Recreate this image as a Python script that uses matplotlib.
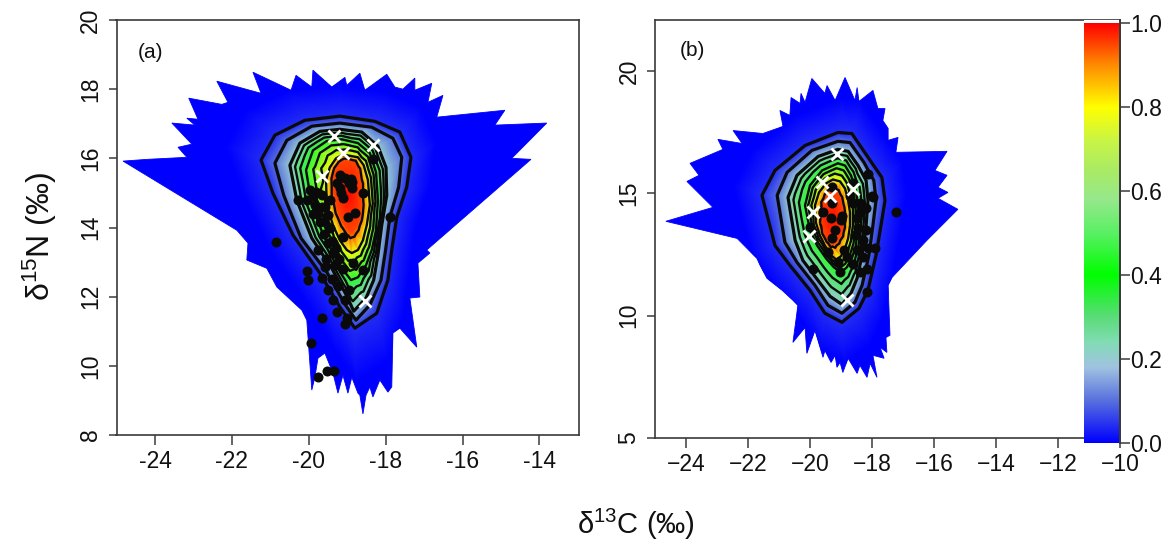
import numpy as np
import matplotlib
matplotlib.use("Agg")
import matplotlib.pyplot as plt
from matplotlib.colors import LinearSegmentedColormap
from matplotlib.patches import Polygon
from matplotlib.tri import Triangulation

plt.rcParams['font.family'] = ['Liberation Sans', 'DejaVu Sans']
plt.rcParams['mathtext.fontset'] = 'custom'
plt.rcParams['mathtext.rm'] = 'Liberation Sans'
plt.rcParams['mathtext.it'] = 'Liberation Sans'
plt.rcParams['mathtext.default'] = 'regular'

# ---------- data ----------
ring_levels = [0.04, 0.10, 0.20, 0.45, 0.78, 0.95]
contour_levels = [0.04, 0.10, 0.20, 0.28, 0.36, 0.45, 0.55, 0.66, 0.78, 0.9]

a_ring_1 = [(-19.19,17.22),(-18.28,17.07),(-17.63,16.76),(-17.34,16.03),(-17.45,15.17),(-17.71,14.30),(-17.84,13.35),(-17.94,12.48),(-18.23,11.52),(-18.80,11.09),(-19.19,11.70),(-19.71,12.68),(-20.41,13.78),(-20.93,14.99),(-21.24,15.95),(-20.88,16.67),(-20.10,17.10)]
a_ring_2 = [(-19.19,17.02),(-18.36,16.90),(-17.81,16.58),(-17.58,16.03),(-17.66,15.17),(-17.89,14.30),(-18.00,13.35),(-18.12,12.48),(-18.41,11.76),(-18.77,11.32),(-19.06,11.78),(-19.53,12.71),(-20.20,13.69),(-20.65,14.93),(-20.88,15.86),(-20.57,16.52),(-19.92,16.93)]
a_ring_3 = [(-19.19,16.84),(-18.62,16.76),(-18.20,16.35),(-17.99,15.74),(-17.97,14.93),(-18.10,14.07),(-18.20,13.20),(-18.31,12.48),(-18.51,11.96),(-18.83,11.58),(-19.01,12.02),(-19.40,12.82),(-19.92,13.69),(-20.31,14.79),(-20.49,15.80),(-20.23,16.44),(-19.71,16.78)]
a_ring_4 = [(-19.14,16.55),(-18.72,16.44),(-18.41,16.15),(-18.25,15.60),(-18.20,14.79),(-18.25,13.92),(-18.36,13.35),(-18.51,12.91),(-18.72,12.56),(-18.90,12.48),(-19.06,12.71),(-19.29,13.11),(-19.61,13.75),(-19.92,14.65),(-20.07,15.66),(-19.89,16.23),(-19.53,16.50)]
a_ring_5 = [(-19.01,16.09),(-18.72,16.03),(-18.57,15.80),(-18.46,15.37),(-18.41,14.65),(-18.49,14.07),(-18.59,13.63),(-18.72,13.35),(-18.88,13.26),(-19.01,13.35),(-19.19,13.63),(-19.37,14.07),(-19.53,14.65),(-19.55,15.37),(-19.45,15.74),(-19.29,16.00),(-19.14,16.09)]
a_ring_6 = [(-18.96,15.95),(-18.80,15.89),(-18.70,15.66),(-18.64,15.22),(-18.64,14.65),(-18.67,14.27),(-18.75,14.04),(-18.85,13.89),(-18.93,13.87),(-19.01,13.98),(-19.14,14.21),(-19.27,14.56),(-19.35,15.02),(-19.35,15.43),(-19.29,15.71),(-19.19,15.86),(-19.06,15.95)]
a_peak = (-18.95, 14.95)

a_outline = [(-24.83,15.92),(-24.21,15.97),(-23.17,16.03),(-23.40,16.32),(-23.04,16.41),(-23.56,17.02),(-22.96,16.96),(-23.17,17.16),(-22.88,17.13),(-23.12,17.74),(-22.26,17.56),(-22.10,17.62),(-22.39,18.23),(-21.24,17.88),(-21.45,18.49),(-20.46,17.97),(-20.33,18.40),(-19.92,18.06),(-19.89,18.55),(-19.40,18.06),(-19.06,18.34),(-19.01,18.11),(-18.67,18.46),(-18.54,17.97),(-17.97,18.43),(-17.76,18.06),(-17.55,18.00),(-17.24,18.32),(-17.24,17.97),(-16.80,18.17),(-16.90,17.62),(-16.51,17.82),(-16.67,17.19),(-14.90,17.39),(-15.16,16.96),(-13.81,17.02),(-14.72,16.00),(-14.22,15.97),(-16.93,13.35),(-16.85,13.26),(-17.16,12.97),(-17.11,11.99),(-17.37,11.96),(-17.19,10.54),(-17.63,11.09),(-17.81,10.95),(-17.84,9.39),(-17.94,9.24),(-18.15,9.59),(-18.33,9.10),(-18.41,9.39),(-18.51,9.15),(-18.59,8.61),(-18.67,9.15),(-18.72,9.21),(-18.88,9.67),(-18.98,9.21),(-19.11,9.73),(-19.24,9.21),(-19.37,9.79),(-19.58,10.37),(-19.76,10.22),(-19.84,9.67),(-19.92,9.30),(-20.00,10.54),(-20.05,11.32),(-20.18,11.61),(-20.83,12.28),(-21.09,12.82),(-21.61,13.06),(-21.58,13.55),(-21.87,13.92)]

a_samples = [(-18.33,15.97),(-20.28,14.79),(-17.89,14.30),(-19.11,13.72),(-19.11,14.85),(-18.98,14.30),(-18.80,14.41),(-19.19,15.51),(-19.06,15.43),(-18.88,15.31),(-18.88,15.14),(-19.27,15.28),(-19.19,15.14),(-18.59,14.99),(-19.45,14.79),(-19.97,15.08),(-19.81,15.02),(-19.66,14.93),(-20.05,14.79),(-19.84,14.65),(-19.58,14.59),(-19.76,14.41),(-19.50,14.36),(-19.71,14.15),(-20.85,13.58),(-20.05,12.74),(-20.02,12.48),(-19.66,11.38),(-19.94,10.66),(-19.76,9.67),(-19.53,9.85),(-19.35,9.85),(-19.01,11.38),(-19.06,11.21),(-19.27,11.55),(-19.06,11.90),(-19.37,11.90),(-19.50,12.19),(-19.66,12.54),(-18.59,12.77),(-18.85,12.97),(-19.76,13.35),(-19.58,12.85),(-19.32,12.91),(-19.50,13.55),(-19.37,13.26),
             (-19.90,14.90),(-19.65,14.60),(-19.90,14.40),(-19.60,14.20),(-19.45,14.00),(-19.60,13.80),(-19.40,13.60),(-19.30,13.40),(-19.55,13.10),(-19.20,13.10),(-19.10,12.80),(-19.40,12.50),(-19.25,12.30),(-18.95,12.20),(-18.90,15.40),(-19.15,15.00),(-18.95,15.30)]
a_crosses = [(-19.35,16.64),(-19.11,16.15),(-18.33,16.38),(-19.66,15.48),(-18.54,11.87)]

b_ring_1 = [(-19.10,17.49),(-18.65,17.45),(-18.06,16.35),(-17.68,15.65),(-17.58,14.71),(-17.71,13.69),(-17.87,12.47),(-18.13,11.04),(-18.42,10.30),(-18.97,9.73),(-19.52,10.10),(-20.00,11.04),(-20.65,12.06),(-21.13,12.87),(-21.55,14.92),(-21.13,15.94),(-20.16,16.96)]
b_ring_2 = [(-19.10,17.13),(-18.71,17.08),(-18.26,16.27),(-17.94,15.53),(-17.87,14.71),(-17.97,13.69),(-18.10,12.47),(-18.32,11.24),(-18.55,10.55),(-18.97,10.10),(-19.42,10.42),(-19.84,11.24),(-20.42,12.18),(-20.81,13.00),(-21.06,14.92),(-20.74,15.86),(-19.94,16.76)]
b_ring_3 = [(-19.10,16.80),(-18.77,16.72),(-18.45,16.14),(-18.19,15.53),(-18.13,14.71),(-18.19,13.69),(-18.32,12.47),(-18.48,11.53),(-18.68,10.91),(-18.97,10.46),(-19.35,10.79),(-19.74,11.44),(-20.23,12.26),(-20.48,13.08),(-20.71,14.84),(-20.42,15.74),(-19.74,16.51)]
b_ring_4 = [(-19.10,16.23),(-18.87,16.14),(-18.68,15.74),(-18.52,15.12),(-18.45,14.51),(-18.45,13.69),(-18.52,12.87),(-18.65,12.34),(-18.81,11.98),(-19.00,11.77),(-19.23,11.98),(-19.48,12.34),(-19.77,12.87),(-20.00,13.49),(-20.16,14.51),(-20.00,15.33),(-19.61,15.94)]
b_ring_5 = [(-19.26,15.57),(-19.03,15.49),(-18.87,15.20),(-18.77,14.71),(-18.71,14.22),(-18.71,13.69),(-18.77,13.16),(-18.87,12.75),(-19.00,12.43),(-19.16,12.30),(-19.32,12.47),(-19.52,12.87),(-19.68,13.28),(-19.81,13.81),(-19.84,14.51),(-19.71,15.04),(-19.48,15.41)]
b_ring_6 = [(-19.26,15.12),(-19.10,15.00),(-19.00,14.71),(-18.94,14.31),(-18.90,13.90),(-18.94,13.57),(-19.00,13.28),(-19.13,13.04),(-19.26,12.92),(-19.39,13.00),(-19.52,13.24),(-19.65,13.57),(-19.68,13.98),(-19.65,14.39),(-19.55,14.71),(-19.45,14.92),(-19.35,15.08)]
b_peak = (-19.29, 13.98)

b_outline = [(-24.65,13.86),(-23.13,14.43),(-23.97,15.49),(-23.58,15.74),(-23.87,16.23),(-22.81,16.80),(-22.97,17.21),(-22.19,17.04),(-22.48,17.57),(-21.52,17.45),(-20.87,17.74),(-20.97,18.39),(-20.65,18.19),(-20.61,18.92),(-20.32,18.68),(-20.29,19.09),(-20.16,18.72),(-19.94,19.70),(-19.52,19.09),(-19.45,19.41),(-19.19,18.80),(-18.87,19.74),(-18.55,18.80),(-18.48,19.33),(-18.42,18.76),(-17.97,19.21),(-17.81,18.47),(-17.58,18.47),(-17.65,17.98),(-17.48,17.66),(-17.48,17.17),(-17.16,17.29),(-17.23,16.68),(-15.58,16.72),(-15.97,15.94),(-15.58,15.74),(-15.87,15.25),(-15.55,15.04),(-15.87,14.80),(-15.23,14.35),(-16.23,13.08),(-17.35,11.57),(-17.48,11.24),(-17.42,9.20),(-17.55,9.11),(-17.52,8.50),(-17.74,8.71),(-17.61,8.26),(-17.97,8.38),(-17.84,7.48),(-18.06,8.05),(-18.16,7.48),(-18.39,7.97),(-18.48,7.64),(-18.77,8.26),(-18.94,7.68),(-19.03,8.09),(-19.13,7.89),(-19.19,8.38),(-19.32,8.09),(-19.52,8.58),(-19.58,8.30),(-19.84,9.40),(-20.10,8.46),(-20.16,9.52),(-20.55,8.91),(-20.39,10.42),(-20.55,10.63),(-20.90,11.04),(-21.39,11.53),(-21.61,12.06),(-21.71,12.34),(-22.35,13.16)]

b_samples = [(-17.23,14.26),(-18.13,15.78),(-17.97,14.84),(-19.29,15.25),(-19.58,14.22),(-19.32,13.98),(-18.97,14.06),(-19.19,13.49),(-19.29,13.16),(-18.61,14.59),(-18.39,14.22),(-18.13,12.75),(-17.90,12.75),(-19.90,11.93),(-18.39,11.77),(-18.16,10.95),(-19.42,12.59),(-18.81,12.38),(-19.03,11.77),(-20.00,13.61),(-18.61,15.41),(-18.19,13.49),(-18.55,13.28),
             (-18.40,14.60),(-18.50,14.00),(-18.20,14.40),(-18.45,13.60),(-18.30,13.10),(-18.50,12.70),(-18.60,12.10),(-18.30,12.40),(-18.90,12.70),(-19.10,12.20),(-18.15,11.90),(-18.70,14.90),(-18.00,14.90),(-19.00,13.90),(-19.30,14.60)]
b_crosses = [(-19.13,16.63),(-19.61,15.45),(-19.35,14.88),(-18.61,15.16),(-19.90,14.26),(-20.03,13.24),(-18.81,10.63)]

a_xticks = [-24, -22, -20, -18, -16, -14]
a_xlabels = ['-24', '-22', '-20', '-18', '-16', '-14']
a_yticks = [8, 10, 12, 14, 16, 18, 20]
b_xticks = [-24, -22, -20, -18, -16, -14, -12, -10]
b_xlabels = ['\u221224', '\u221222', '\u221220', '\u221218', '\u221216', '\u221214', '\u221212', '\u221210']
b_yticks = [5, 10, 15, 20]
bar_ticks = [0.0, 0.2, 0.4, 0.6, 0.8, 1.0]

cmap_stops = [(0.00, '#0000ff'), (0.10, '#5870de'), (0.18, '#a0c3e1'), (0.24, '#82dcb4'),
              (0.30, '#5adc78'), (0.40, '#00ff00'), (0.50, '#5af064'), (0.58, '#96e88c'),
              (0.65, '#aaeb64'), (0.72, '#c8f546'), (0.80, '#ffff00'), (0.90, '#ff8c00'),
              (1.00, '#ff0000')]
cmap = LinearSegmentedColormap.from_list('density', cmap_stops, N=512)
GREY = '#3a3a3a'


def px_axes(fig, left, right, top, bottom):
    W, H = 1167.0, 544.0
    return fig.add_axes([left / W, 1 - bottom / H, (right - left) / W, (bottom - top) / H])


def density(ax, rings, peak, outline, samples, crosses):
    env = Polygon(outline, closed=True, facecolor='#0000ff', edgecolor='#0000ff', lw=0.6, zorder=1)
    ax.add_patch(env)
    rings = [np.asarray(r, float) for r in rings]
    n = len(rings[0])
    c = np.asarray(peak)
    glow = c + 1.4 * (rings[0] - c)
    layers = [glow] + rings
    z_layers = [0.0] + ring_levels
    xs = np.concatenate([l[:, 0] for l in layers] + [[c[0]]])
    ys = np.concatenate([l[:, 1] for l in layers] + [[c[1]]])
    zs = np.concatenate([np.full(n, v) for v in z_layers] + [[1.0]])
    tris = []
    for k in range(len(layers) - 1):
        for i in range(n):
            j = (i + 1) % n
            a, b = k * n + i, k * n + j
            d, e = (k + 1) * n + i, (k + 1) * n + j
            tris += [(a, b, e), (a, e, d)]
    last = (len(layers) - 1) * n
    apex = len(xs) - 1
    for i in range(n):
        tris.append((last + i, last + (i + 1) % n, apex))
    tri = Triangulation(xs, ys, np.array(tris))
    mesh = ax.tripcolor(tri, zs, shading='gouraud', cmap=cmap, vmin=0, vmax=1, zorder=2)
    mesh.set_clip_path(env)
    ax.tricontour(tri, zs, levels=contour_levels[:3], colors='#0a0a0a', linewidths=2.3, zorder=3)
    ax.tricontour(tri, zs, levels=contour_levels[3:], colors='#0a0a0a', linewidths=1.7, zorder=3)
    sx, sy = zip(*samples)
    ax.scatter(sx, sy, s=52, c='#0a0a0a', linewidths=0, zorder=4)
    cx, cy = zip(*crosses)
    ax.scatter(cx, cy, s=75, marker='x', c='white', linewidths=2.0, zorder=5)


def style(ax, xticks, xlabels, yticks):
    ax.set_xticks(xticks)
    ax.set_xticklabels(xlabels)
    ax.set_yticks(yticks)
    ax.tick_params(axis='x', length=7, width=1.1, color=GREY, labelsize=16.5, pad=3.5, labelcolor='#111111')
    ax.tick_params(axis='y', length=6, width=1.1, color=GREY, labelsize=16.5, pad=4.5, labelcolor='#111111')
    for t in ax.get_yticklabels():
        t.set_rotation(90)
        t.set_va('center')
    for s in ax.spines.values():
        s.set_color(GREY)
        s.set_linewidth(1.2)


fig = plt.figure(figsize=(11.67, 5.44), dpi=100, facecolor='white')

ax_a = px_axes(fig, 116.5, 579, 20, 435)
ax_a.set_xlim(-25, -12.97)
ax_a.set_ylim(8, 20)
density(ax_a, [a_ring_1, a_ring_2, a_ring_3, a_ring_4, a_ring_5, a_ring_6], a_peak, a_outline, a_samples, a_crosses)
style(ax_a, a_xticks, a_xlabels, a_yticks)
ax_a.text(0.046, 0.922, '(a)', transform=ax_a.transAxes, fontsize=15, ha='left', va='center', color='#111111')

ax_b = px_axes(fig, 655, 1120, 20, 438)
ax_b.set_xlim(-25, -10)
ax_b.set_ylim(5, 22.09)
density(ax_b, [b_ring_1, b_ring_2, b_ring_3, b_ring_4, b_ring_5, b_ring_6], b_peak, b_outline, b_samples, b_crosses)
style(ax_b, b_xticks, b_xlabels, b_yticks)
ax_b.text(0.054, 0.928, '(b)', transform=ax_b.transAxes, fontsize=15, ha='left', va='center', color='#111111')

ax_c = px_axes(fig, 1083.5, 1119.5, 20, 442.5)
gradient = np.linspace(0, 1, 512).reshape(-1, 1)
ax_c.imshow(gradient, origin='lower', extent=(0, 1, 0, 1), aspect='auto', cmap=cmap, vmin=0, vmax=1)
ax_c.set_xlim(0, 1)
ax_c.set_ylim(0, 1.006)
ax_c.set_xticks([])
ax_c.yaxis.tick_right()
ax_c.set_yticks(bar_ticks)
ax_c.set_yticklabels([f'{v:.1f}' for v in bar_ticks])
ax_c.tick_params(axis='y', length=7, width=1.1, color=GREY, labelsize=16.5, pad=1, labelcolor='#111111')
for side, s in ax_c.spines.items():
    s.set_visible(side == 'right')
    s.set_color(GREY)
    s.set_linewidth(1.4)

fig.text(40 / 1167, 1 - 236 / 544, r'$\delta^{15}N$ (‰)', rotation=90, ha='center', va='center', fontsize=23, color='#111111')
fig.text(636 / 1167, 1 - 524 / 544, r'$\delta^{13}C$ (‰)', ha='center', va='center', fontsize=21, color='#111111')

fig.savefig('out.png', dpi=100)
